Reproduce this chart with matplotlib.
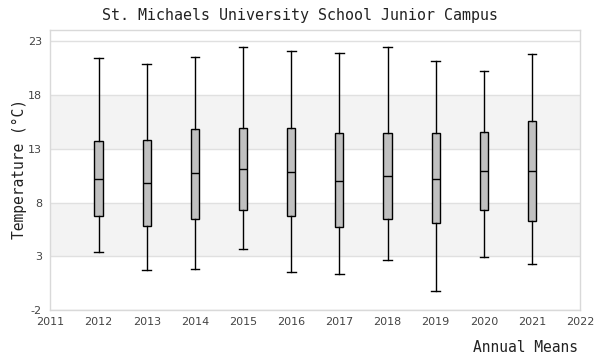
import matplotlib
matplotlib.use("Agg")
import matplotlib.pyplot as plt

years = [2012, 2013, 2014, 2015, 2016, 2017, 2018, 2019, 2020, 2021]
whislo = [3.37, 1.70, 1.80, 3.65, 1.52, 1.33, 2.63, -0.24, 2.91, 2.26]
q1 = [6.80, 5.87, 6.52, 7.35, 6.80, 5.69, 6.52, 6.06, 7.35, 6.33]
med = [10.22, 9.85, 10.71, 11.15, 10.87, 10.04, 10.50, 10.22, 10.96, 10.96]
q3 = [13.74, 13.83, 14.85, 14.94, 14.94, 14.48, 14.48, 14.48, 14.57, 15.62]
whishi = [21.43, 20.87, 21.52, 22.44, 22.10, 21.89, 22.44, 21.15, 20.25, 21.76]
yticks = [-2, 3, 8, 13, 18, 23]
xticks = list(range(2011, 2023))

title = "St. Michaels University School Junior Campus"
ylabel = "Temperature (°C)"
xlabel = "Annual Means"

fig = plt.figure(figsize=(6, 3.6), dpi=100)
ax = fig.add_axes([0.084, 0.138, 0.883, 0.778])

# alternating bands
for i in range(len(yticks) - 1):
    if i % 2 == 1:
        ax.axhspan(yticks[i], yticks[i + 1], color="#f3f3f3", zorder=0, lw=0)
for y in yticks:
    ax.axhline(y, color="#e0e0e0", lw=1, zorder=0.5)

stats = []
for i in range(len(years)):
    stats.append(dict(whislo=whislo[i], q1=q1[i], med=med[i], q3=q3[i],
                      whishi=whishi[i], fliers=[]))

ax.bxp(stats, positions=years, widths=0.17, patch_artist=True,
       showfliers=False,
       boxprops=dict(facecolor="#c0c0c0", edgecolor="black", linewidth=1.0),
       medianprops=dict(color="black", linewidth=1.0),
       whiskerprops=dict(color="black", linewidth=1.0),
       capprops=dict(color="black", linewidth=1.0),
       capwidths=0.18, zorder=3)

ax.set_xlim(2011, 2022)
ax.set_ylim(-2, 24)
ax.set_xticks(xticks)
ax.set_xticklabels([str(x) for x in xticks])
ax.set_yticks(yticks)
ax.set_yticklabels([str(y) for y in yticks])
ax.tick_params(axis="both", length=0, labelsize=8, colors="#444444")
ax.tick_params(axis="x", pad=5)
ax.tick_params(axis="y", pad=6)
for s in ax.spines.values():
    s.set_color("#d9d9d9")
    s.set_linewidth(1)

mono = ["DejaVu Sans Mono"]
fig.text(0.5, 0.958, title, ha="center", va="center", family=mono,
         fontsize=10.8, color="#222222")
fig.text(0.033, 0.53, ylabel, ha="center", va="center", rotation=90,
         family=mono, fontsize=10.5, color="#222222")
fig.text(0.963, 0.035, xlabel, ha="right", va="center", family=mono,
         fontsize=10.5, color="#222222")

fig.savefig("out.png", dpi=100)
